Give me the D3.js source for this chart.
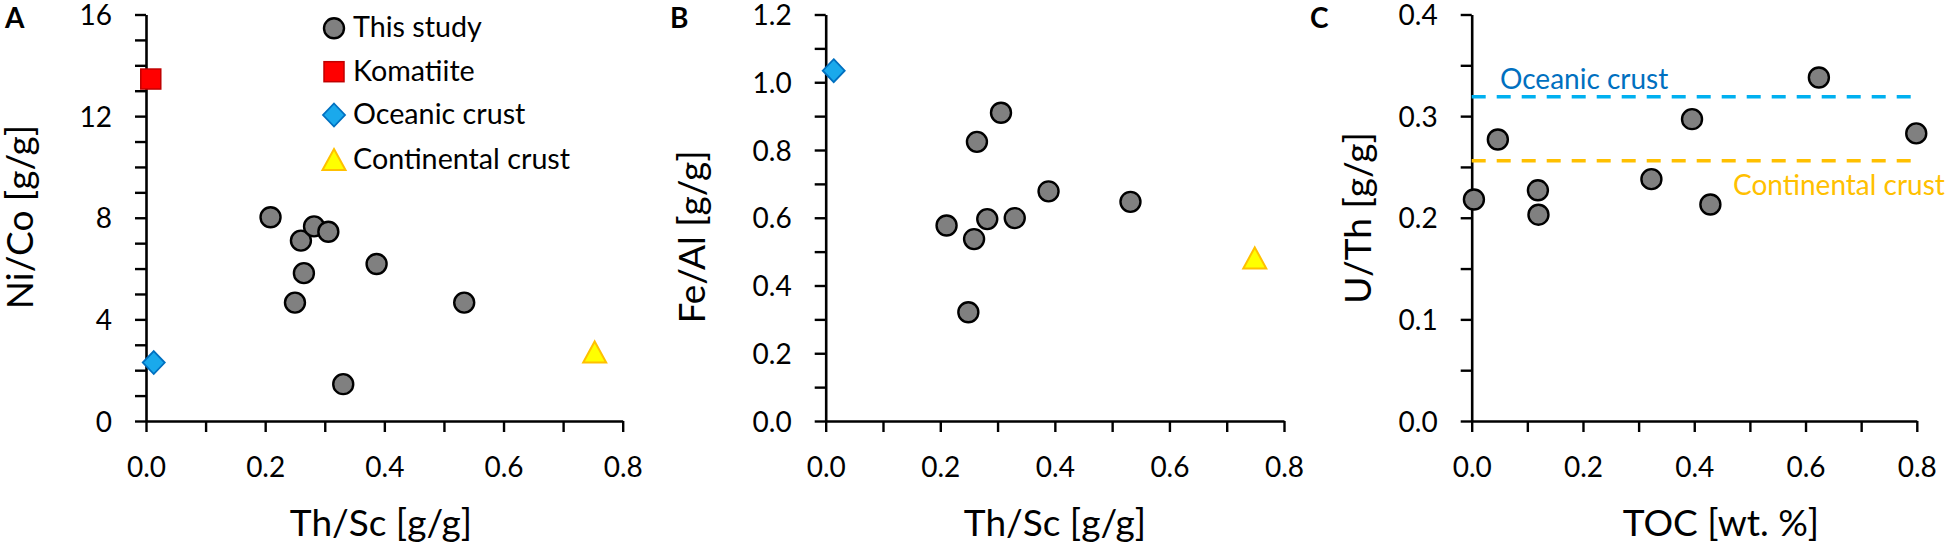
<!DOCTYPE html>
<html>
<head>
<meta charset="utf-8">
<script src="https://cdn.jsdelivr.net/npm/d3@7"></script>
<style>
  body { margin: 0; background: #fff; }
  svg { display: block; font-family: Lato, "Open Sans", sans-serif; }
</style>
</head>
<body>
<div id="chart"></div>
<script>
// ---- data ----
// panel A: Ni/Co vs Th/Sc
const thScA = [0.209, 0.250, 0.260, 0.265, 0.282, 0.306, 0.331, 0.387, 0.534];
const niCo = [8.02, 4.66, 7.10, 5.82, 7.66, 7.45, 1.45, 6.18, 4.66];
const komatiiteA = [0.008, 13.46];
const oceanicA = [0.013, 2.30];
const continentalA = [0.753, 2.70];

// panel B: Fe/Al vs Th/Sc
const thScB = [0.211, 0.249, 0.259, 0.264, 0.282, 0.306, 0.330, 0.389, 0.532];
const feAl = [0.577, 0.321, 0.537, 0.824, 0.596, 0.910, 0.599, 0.678, 0.647];
const oceanicB = [0.014, 1.034];
const continentalB = [0.749, 0.48];

// panel C: U/Th vs TOC
const toc = [0.004, 0.047, 0.119, 0.120, 0.323, 0.396, 0.429, 0.624, 0.799];
const uTh = [0.218, 0.277, 0.227, 0.203, 0.238, 0.297, 0.213, 0.338, 0.283];
const oceanicUTh = 0.319;
const continentalUTh = 0.256;
const refLineX = [0, 0.79];

// tick labels
const xTicks = [0, 0.2, 0.4, 0.6, 0.8];
const yTicksA = [0, 4, 8, 12, 16];
const yTicksB = [0, 0.2, 0.4, 0.6, 0.8, 1.0, 1.2];
const yTicksC = [0, 0.1, 0.2, 0.3, 0.4];

const legendLabels = ["This study", "Komatiite", "Oceanic crust", "Continental crust"];

// ---- colours ----
const grey = "#808080";
const red = "#ff0000", redEdge = "#c00000";
const blue = "#1aa9ec", blueEdge = "#0070c0";
const yellow = "#ffff00", yellowEdge = "#ffc000";
const lineBlue = "#00b0f0", textBlue = "#0070c0";
const orange = "#ffc000";

const W = 1955, H = 549;
const svg = d3.select("#chart").append("svg")
    .attr("width", W)
    .attr("height", H)
    .attr("viewBox", `0 0 ${W} ${H}`);

const plotTop = 14.5, plotBottom = 421;

function range(a, b, step) {
    const out = [];
    for (let v = a; v <= b + step / 2; v += step) out.push(+v.toFixed(4));
    return out;
}

function panel(opt) {
    const x = d3.scaleLinear().domain([0, 0.8]).range([opt.left, opt.right]);
    const y = d3.scaleLinear().domain([0, opt.yMax]).range([plotBottom, plotTop]);
    const g = svg.append("g");

    // x axis, minor ticks every 0.1, labels every 0.2
    const xa = g.append("g")
        .attr("transform", `translate(0,${plotBottom})`)
        .call(d3.axisBottom(x)
            .tickValues(range(0, 0.8, 0.1))
            .tickSize(11)
            .tickSizeOuter(0)
            .tickFormat(d => xTicks.some(t => Math.abs(t - d) < 1e-6) ? d3.format(".1f")(d) : ""));
    xa.selectAll("text").attr("y", 56).attr("dy", 0);

    // y axis
    const ya = g.append("g")
        .attr("transform", `translate(${opt.left},0)`)
        .call(d3.axisLeft(y)
            .tickValues(range(0, opt.yMax, opt.yMinor))
            .tickSize(11)
            .tickSizeOuter(0)
            .tickPadding(23)
            .tickFormat(d => opt.yTicks.some(t => Math.abs(t - d) < 1e-6) ? opt.yFmt(d) : ""));
    ya.selectAll("text").attr("dy", "0.36em");

    g.selectAll(".domain").attr("stroke", "#000").attr("stroke-width", 2.6);
    g.selectAll(".tick line").attr("stroke", "#000").attr("stroke-width", 2.4);
    g.selectAll(".tick text")
        .attr("fill", "#000")
        .style("font-size", "28px")
        .style("font-family", "Lato, sans-serif");

    // axis titles
    g.append("text")
        .attr("x", opt.xTitleX)
        .attr("y", 536)
        .attr("text-anchor", "middle")
        .style("font-size", "37px")
        .text(opt.xTitle);

    g.append("text")
        .attr("transform", `translate(${opt.yTitleX},${opt.yTitleY}) rotate(-90)`)
        .attr("text-anchor", "middle")
        .style("font-size", "37px")
        .text(opt.yTitle);

    // panel letter
    g.append("text")
        .attr("x", opt.letterX)
        .attr("y", 28)
        .style("font-size", "28px")
        .style("font-weight", "bold")
        .text(opt.letter);

    return { g, x, y };
}

function drawCircles(p, xs, ys) {
    p.g.selectAll(null)
        .data(xs.map((v, i) => [v, ys[i]]))
        .enter()
        .append("circle")
        .attr("cx", d => p.x(d[0]))
        .attr("cy", d => p.y(d[1]))
        .attr("r", 10)
        .attr("fill", grey)
        .attr("stroke", "#000")
        .attr("stroke-width", 2.4);
}

function drawMarker(g, type, cx, cy) {
    if (type === "circle") {
        g.append("circle").attr("cx", cx).attr("cy", cy).attr("r", 10)
            .attr("fill", grey).attr("stroke", "#000").attr("stroke-width", 2.4);
    } else if (type === "square") {
        g.append("rect").attr("x", cx - 10).attr("y", cy - 10)
            .attr("width", 20).attr("height", 20)
            .attr("fill", red).attr("stroke", redEdge).attr("stroke-width", 1.5);
    } else if (type === "diamond") {
        g.append("path")
            .attr("d", `M${cx},${cy - 11.5}L${cx + 11},${cy}L${cx},${cy + 11.5}L${cx - 11},${cy}Z`)
            .attr("fill", blue).attr("stroke", blueEdge).attr("stroke-width", 1.8);
    } else if (type === "triangle") {
        g.append("path")
            .attr("d", `M${cx},${cy - 11}L${cx + 11.5},${cy + 10}L${cx - 11.5},${cy + 10}Z`)
            .attr("fill", yellow).attr("stroke", yellowEdge).attr("stroke-width", 2);
    }
}

// ---- panel A ----
const pA = panel({
    left: 146, right: 622.7, yMax: 16, yMinor: 1, yTicks: yTicksA, yFmt: d3.format("d"),
    xTitle: "Th/Sc [g/g]", xTitleX: 381,
    yTitle: "Ni/Co [g/g]", yTitleX: 33, yTitleY: 217,
    letter: "A", letterX: 5
});
drawCircles(pA, thScA, niCo);
drawMarker(pA.g, "square", pA.x(komatiiteA[0]), pA.y(komatiiteA[1]));
drawMarker(pA.g, "diamond", pA.x(oceanicA[0]), pA.y(oceanicA[1]));
drawMarker(pA.g, "triangle", pA.x(continentalA[0]), pA.y(continentalA[1]));

// legend
const legendTypes = ["circle", "square", "diamond", "triangle"];
const legendRowY = [28.3, 71.7, 115, 160];
const legend = svg.append("g");
legendLabels.forEach((label, i) => {
    drawMarker(legend, legendTypes[i], 334, legendRowY[i]);
    legend.append("text")
        .attr("x", 353)
        .attr("y", legendRowY[i] + 9)
        .style("font-size", "28.7px")
        .text(label);
});

// ---- panel B ----
const pB = panel({
    left: 825.7, right: 1284, yMax: 1.2, yMinor: 0.1, yTicks: yTicksB, yFmt: d3.format(".1f"),
    xTitle: "Th/Sc [g/g]", xTitleX: 1055,
    yTitle: "Fe/Al [g/g]", yTitleX: 705, yTitleY: 237,
    letter: "B", letterX: 670
});
drawCircles(pB, thScB, feAl);
drawMarker(pB.g, "diamond", pB.x(oceanicB[0]), pB.y(oceanicB[1]));
drawMarker(pB.g, "triangle", pB.x(continentalB[0]), pB.y(continentalB[1]));

// ---- panel C ----
const pC = panel({
    left: 1471.7, right: 1916.8, yMax: 0.4, yMinor: 0.05, yTicks: yTicksC, yFmt: d3.format(".1f"),
    xTitle: "TOC [wt. %]", xTitleX: 1721,
    yTitle: "U/Th [g/g]", yTitleX: 1371, yTitleY: 218,
    letter: "C", letterX: 1310
});

// reference lines
[[oceanicUTh, lineBlue], [continentalUTh, orange]].forEach(([v, c]) => {
    pC.g.append("line")
        .attr("x1", pC.x(refLineX[0]))
        .attr("x2", pC.x(refLineX[1]))
        .attr("y1", pC.y(v))
        .attr("y2", pC.y(v))
        .attr("stroke", c)
        .attr("stroke-width", 3.5)
        .attr("stroke-dasharray", "14,11");
});
pC.g.append("text")
    .attr("x", 1500)
    .attr("y", 89)
    .attr("fill", textBlue)
    .style("font-size", "28px")
    .text("Oceanic crust");
pC.g.append("text")
    .attr("x", 1733)
    .attr("y", 195)
    .attr("fill", orange)
    .style("font-size", "28px")
    .text("Continental crust");

drawCircles(pC, toc, uTh);
</script>
</body>
</html>
